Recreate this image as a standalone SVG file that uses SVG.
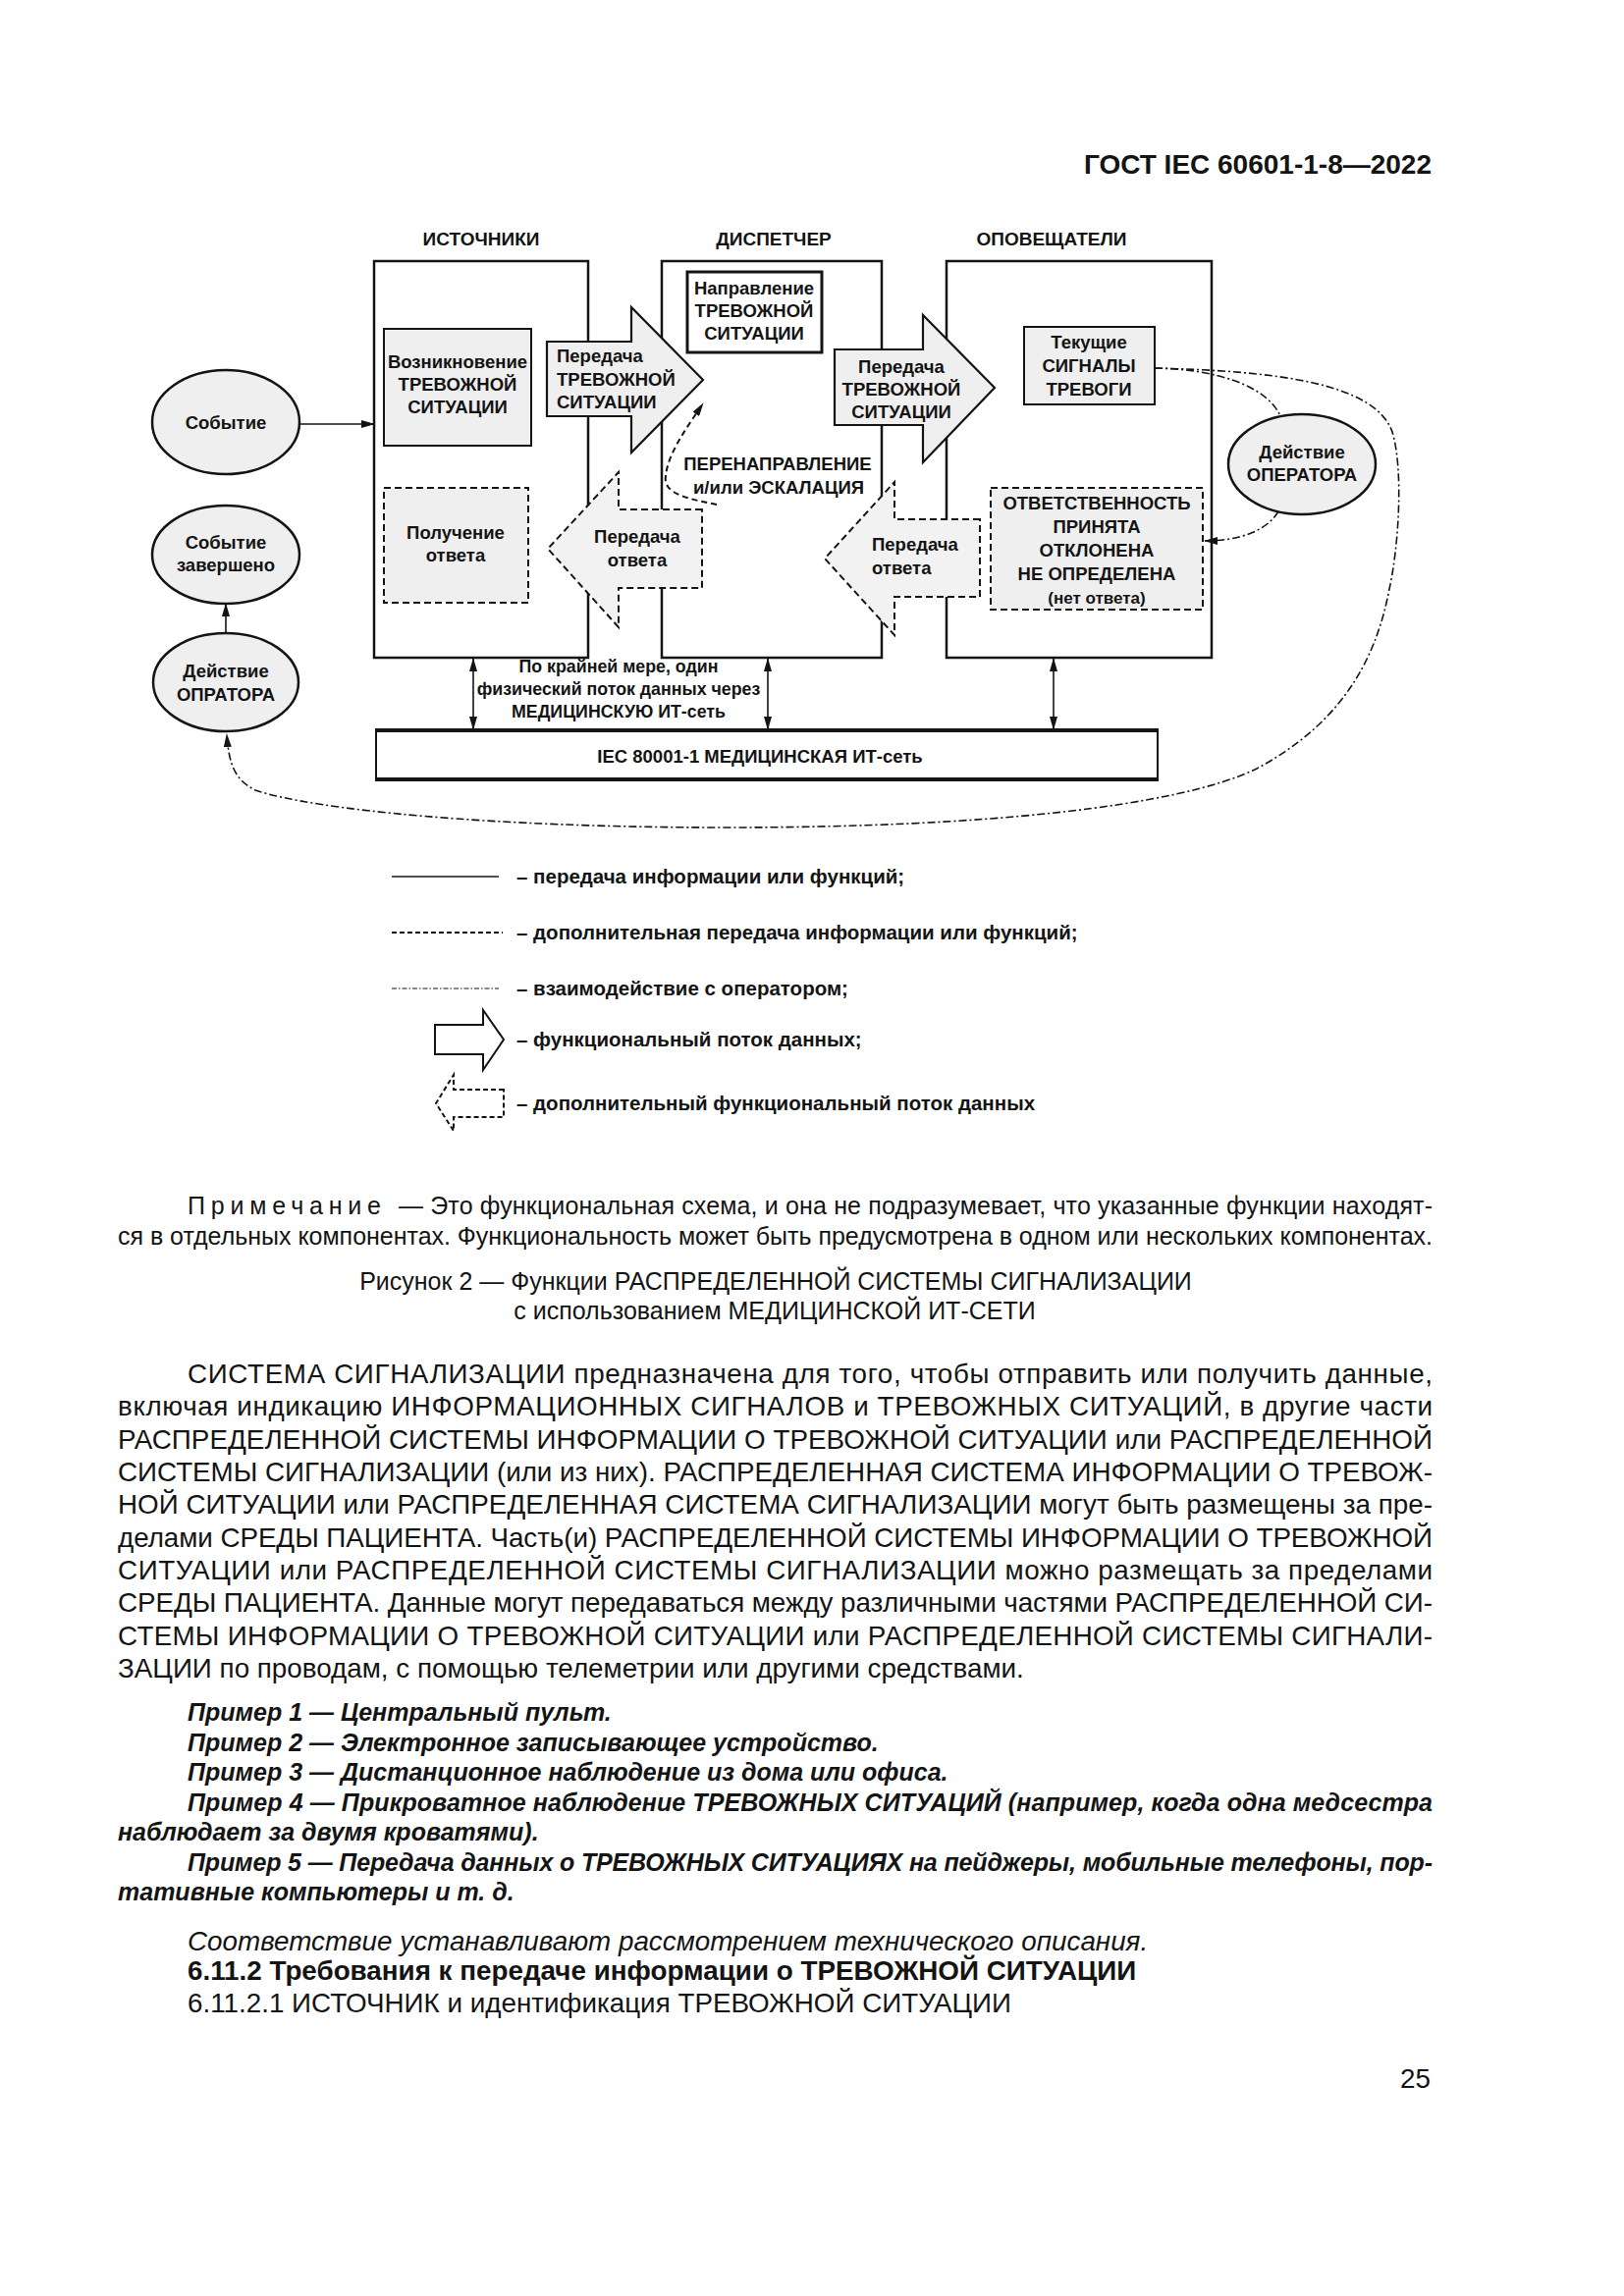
<svg xmlns="http://www.w3.org/2000/svg" width="1654" height="2339" viewBox="0 0 1654 2339">
<defs>
<style>
text{font-family:"Liberation Sans",Arial,Helvetica,sans-serif;fill:#141414}
.d{font-weight:bold;font-size:18.5px;text-anchor:middle}
.ds{font-weight:bold;font-size:18.5px}
.h{font-weight:bold;font-size:19px;text-anchor:middle}
.lg{font-weight:bold;font-size:20.5px}
.col{fill:#fff;stroke:#141414;stroke-width:2.5}
.box{fill:#efefef;stroke:#141414;stroke-width:2}
.wbox{fill:#fff;stroke:#141414;stroke-width:3}
.dbox{fill:#efefef;stroke:#141414;stroke-width:2;stroke-dasharray:7 4}
.arr{fill:#efefef;stroke:#141414;stroke-width:2.2;stroke-linejoin:miter}
.warr{fill:#fff;stroke:#141414;stroke-width:2;stroke-linejoin:miter}
.darr{fill:#f2f2f2;stroke:#141414;stroke-width:2;stroke-dasharray:7 4}
.wdarr{fill:#fff;stroke:#141414;stroke-width:2;stroke-dasharray:5 3}
.ell{fill:#efefef;stroke:#141414;stroke-width:2.5}
.ln{fill:none;stroke:#141414;stroke-width:1.6}
.dsh{fill:none;stroke:#141414;stroke-width:2;stroke-dasharray:6 4}
.dd{fill:none;stroke:#141414;stroke-width:1.6;stroke-dasharray:8 3 2 3}
.b{font-size:27.8px}
.n{font-size:25px}
.ex{font-size:25px;font-weight:bold;font-style:italic}
</style>
<marker id="ah" viewBox="0 0 14 8" refX="13" refY="4" markerWidth="14" markerHeight="8" markerUnits="userSpaceOnUse" orient="auto-start-reverse"><path d="M0,0 L14,4 L0,8 z" fill="#141414"/></marker>
</defs>
<rect width="1654" height="2339" fill="#fff"/>

<text x="1458" y="177" style="font-weight:bold;font-size:28px;text-anchor:end">ГОСТ IEC 60601-1-8—2022</text>

<!-- column titles -->
<text class="h" x="490" y="250">ИСТОЧНИКИ</text>
<text class="h" x="788" y="250">ДИСПЕТЧЕР</text>
<text class="h" x="1071" y="250">ОПОВЕЩАТЕЛИ</text>

<!-- column boxes -->
<g id="n-sources"><rect class="col" x="381" y="266" width="218" height="404"/></g>
<g id="n-dispatcher"><rect class="col" x="674" y="266" width="224" height="404"/></g>
<g id="n-notifiers"><rect class="col" x="964" y="266" width="270" height="404"/></g>

<g id="n-network">
<rect x="383" y="744" width="796" height="50" fill="#fff" stroke="#141414" stroke-width="2"/>
<line x1="382" y1="744" x2="1180" y2="744" stroke="#141414" stroke-width="4"/>
<line x1="382" y1="794" x2="1180" y2="794" stroke="#141414" stroke-width="4"/>
<text class="d" x="774" y="777">IEC 80001-1 МЕДИЦИНСКАЯ ИТ-сеть</text>
</g>

<g id="n-origin">
<rect class="box" x="391" y="335" width="150" height="119"/>
<text class="d" x="466" y="375">Возникновение</text>
<text class="d" x="466" y="398">ТРЕВОЖНОЙ</text>
<text class="d" x="466" y="421">СИТУАЦИИ</text>
</g>

<g id="n-receive">
<rect class="dbox" x="391" y="497" width="147" height="117"/>
<text class="d" x="464" y="549">Получение</text>
<text class="d" x="464" y="572">ответа</text>
</g>

<g id="n-route">
<rect class="wbox" x="700" y="277" width="137" height="82"/>
<text class="d" x="768" y="300">Направление</text>
<text class="d" x="768" y="323">ТРЕВОЖНОЙ</text>
<text class="d" x="768" y="346">СИТУАЦИИ</text>
</g>

<g id="n-current">
<rect class="box" x="1043" y="333" width="133" height="79"/>
<text class="d" x="1109" y="355">Текущие</text>
<text class="d" x="1109" y="379">СИГНАЛЫ</text>
<text class="d" x="1109" y="403">ТРЕВОГИ</text>
</g>

<g id="n-resp">
<rect class="dbox" x="1009" y="497" width="216" height="124"/>
<text class="d" x="1117" y="519">ОТВЕТСТВЕННОСТЬ</text>
<text class="d" x="1117" y="543">ПРИНЯТА</text>
<text class="d" x="1117" y="567">ОТКЛОНЕНА</text>
<text class="d" x="1117" y="591">НЕ ОПРЕДЕЛЕНА</text>
<text class="d" x="1117" y="615" style="font-size:17px">(нет ответа)</text>
</g>

<!-- block arrows -->
<g id="n-transfer1">
<polygon class="arr" points="557,348 643,348 643,313 716,387 643,461 643,424 557,424"/>
<text class="ds" x="567" y="369">Передача</text>
<text class="ds" x="567" y="393">ТРЕВОЖНОЙ</text>
<text class="ds" x="567" y="416">СИТУАЦИИ</text>
</g>
<g id="n-transfer2">
<polygon class="arr" points="850,356 940,356 940,321 1013,395 940,471 940,433 850,433"/>
<text class="d" x="918" y="380">Передача</text>
<text class="d" x="918" y="403">ТРЕВОЖНОЙ</text>
<text class="d" x="918" y="426">СИТУАЦИИ</text>
</g>
<g id="n-reply1">
<polygon class="darr" points="715,519 630,519 630,481 558,559 630,639 630,599 715,599"/>
<text class="d" x="649" y="553">Передача</text>
<text class="d" x="649" y="577">ответа</text>
</g>
<g id="n-reply2">
<polygon class="darr" points="998,529 911,529 911,491 840,569 911,647 911,608 998,608"/>
<text class="ds" x="888" y="561">Передача</text>
<text class="ds" x="888" y="585">ответа</text>
</g>

<g id="n-redirect-label">
<text class="d" x="792" y="479">ПЕРЕНАПРАВЛЕНИЕ</text>
<text class="d" x="793" y="503">и/или ЭСКАЛАЦИЯ</text>
</g>

<g id="n-fiber-label">
<text class="d" x="630" y="685" style="font-size:17.8px">По крайней мере, один</text>
<text class="d" x="630" y="708" style="font-size:17.8px">физический поток данных через</text>
<text class="d" x="630" y="731" style="font-size:17.8px">МЕДИЦИНСКУЮ ИТ-сеть</text>
</g>

<!-- ellipses -->
<g id="n-event">
<ellipse class="ell" cx="230" cy="430" rx="75" ry="53"/>
<text class="d" x="230" y="437">Событие</text>
</g>
<g id="n-event-done">
<ellipse class="ell" cx="230" cy="565" rx="75" ry="50"/>
<text class="d" x="230" y="559">Событие</text>
<text class="d" x="230" y="582">завершено</text>
</g>
<g id="n-op-left">
<ellipse class="ell" cx="230" cy="695" rx="74" ry="50"/>
<text class="d" x="230" y="690">Действие</text>
<text class="d" x="230" y="714">ОПРАТОРА</text>
</g>
<g id="n-op-right">
<ellipse class="ell" cx="1326" cy="473" rx="75" ry="51"/>
<text class="d" x="1326" y="467">Действие</text>
<text class="d" x="1326" y="490">ОПЕРАТОРА</text>
</g>

<!-- connectors -->
<g id="connectors">
<line class="ln" x1="305" y1="432" x2="381" y2="432" marker-end="url(#ah)"/>
<line class="ln" x1="230" y1="645" x2="230" y2="615" marker-end="url(#ah)"/>
<line class="ln" x1="482" y1="671" x2="482" y2="743" marker-start="url(#ah)" marker-end="url(#ah)"/>
<line class="ln" x1="782" y1="671" x2="782" y2="743" marker-start="url(#ah)" marker-end="url(#ah)"/>
<line class="ln" x1="1073" y1="671" x2="1073" y2="743" marker-start="url(#ah)" marker-end="url(#ah)"/>
<path class="dsh" d="M730,514 C700,508 675,503 678,485 C680,462 700,435 716,411" marker-end="url(#ah)"/>
<path class="dd" d="M1176,375 C1236,376 1290,392 1304,424"/>
<path class="dd" d="M1176,375 C1300,378 1400,390 1418,440 C1430,480 1424,560 1415,600 C1400,680 1360,740 1280,783 C1200,822 1000,843 740,843 C500,843 320,825 260,805 C240,795 233,780 231,748" marker-end="url(#ah)"/>
<path class="dd" d="M1302,521 C1290,541 1262,551 1227,551" marker-end="url(#ah)"/>
</g>

<!-- legend -->
<g id="legend">
<line class="ln" x1="399" y1="893" x2="508" y2="893"/>
<text class="lg" x="526" y="900">– передача информации или функций;</text>
<line class="dsh" x1="399" y1="950" x2="512" y2="950" style="stroke-width:2;stroke-dasharray:5 3"/>
<text class="lg" x="526" y="957">– дополнительная передача информации или функций;</text>
<line class="dd" x1="399" y1="1007" x2="508" y2="1007" style="stroke-width:1.2;stroke-dasharray:5 2 1.5 2"/>
<text class="lg" x="526" y="1014">– взаимодействие с оператором;</text>
<polygon class="warr" points="443,1044 492,1044 492,1029 513,1059 492,1090 492,1074 443,1074"/>
<text class="lg" x="526" y="1066">– функциональный поток данных;</text>
<polygon class="wdarr" points="513,1110 462,1110 462,1095 444,1124 462,1152 462,1138 513,1138"/>
<text class="lg" x="526" y="1131">– дополнительный функциональный поток данных</text>
</g>

<!-- note and caption -->
<g id="note">
<text class="n" x="191" y="1237" textLength="197" lengthAdjust="spacing">Примечание</text>
<text class="n" x="406" y="1237" textLength="1053" lengthAdjust="spacing">— Это функциональная схема, и она не подразумевает, что указанные функции находят-</text>
<text class="n" x="120" y="1268" textLength="1339" lengthAdjust="spacing">ся в отдельных компонентах. Функциональность может быть предусмотрена в одном или нескольких компонентах.</text>
<text class="n" x="790" y="1314" text-anchor="middle">Рисунок 2 — Функции РАСПРЕДЕЛЕННОЙ СИСТЕМЫ СИГНАЛИЗАЦИИ</text>
<text class="n" x="789" y="1344" text-anchor="middle">с использованием МЕДИЦИНСКОЙ ИТ-СЕТИ</text>
</g>

<!-- body text -->
<g id="body">
<text class="b" x="191" y="1409" textLength="1268" lengthAdjust="spacing">СИСТЕМА СИГНАЛИЗАЦИИ предназначена для того, чтобы отправить или получить данные,</text>
<text class="b" x="120" y="1442" textLength="1339" lengthAdjust="spacing">включая индикацию ИНФОРМАЦИОННЫХ СИГНАЛОВ и ТРЕВОЖНЫХ СИТУАЦИЙ, в другие части</text>
<text class="b" x="120" y="1476" textLength="1339" lengthAdjust="spacing">РАСПРЕДЕЛЕННОЙ СИСТЕМЫ ИНФОРМАЦИИ О ТРЕВОЖНОЙ СИТУАЦИИ или РАСПРЕДЕЛЕННОЙ</text>
<text class="b" x="120" y="1509" textLength="1339" lengthAdjust="spacing">СИСТЕМЫ СИГНАЛИЗАЦИИ (или из них). РАСПРЕДЕЛЕННАЯ СИСТЕМА ИНФОРМАЦИИ О ТРЕВОЖ-</text>
<text class="b" x="120" y="1542" textLength="1339" lengthAdjust="spacing">НОЙ СИТУАЦИИ или РАСПРЕДЕЛЕННАЯ СИСТЕМА СИГНАЛИЗАЦИИ могут быть размещены за пре-</text>
<text class="b" x="120" y="1576" textLength="1339" lengthAdjust="spacing">делами СРЕДЫ ПАЦИЕНТА. Часть(и) РАСПРЕДЕЛЕННОЙ СИСТЕМЫ ИНФОРМАЦИИ О ТРЕВОЖНОЙ</text>
<text class="b" x="120" y="1609" textLength="1339" lengthAdjust="spacing">СИТУАЦИИ или РАСПРЕДЕЛЕННОЙ СИСТЕМЫ СИГНАЛИЗАЦИИ можно размещать за пределами</text>
<text class="b" x="120" y="1642" textLength="1339" lengthAdjust="spacing">СРЕДЫ ПАЦИЕНТА. Данные могут передаваться между различными частями РАСПРЕДЕЛЕННОЙ СИ-</text>
<text class="b" x="120" y="1676" textLength="1339" lengthAdjust="spacing">СТЕМЫ ИНФОРМАЦИИ О ТРЕВОЖНОЙ СИТУАЦИИ или РАСПРЕДЕЛЕННОЙ СИСТЕМЫ СИГНАЛИ-</text>
<text class="b" x="120" y="1709">ЗАЦИИ по проводам, с помощью телеметрии или другими средствами.</text>
</g>

<g id="examples">
<text class="ex" x="191" y="1753">Пример 1 — Центральный пульт.</text>
<text class="ex" x="191" y="1783.5">Пример 2 — Электронное записывающее устройство.</text>
<text class="ex" x="191" y="1814">Пример 3 — Дистанционное наблюдение из дома или офиса.</text>
<text class="ex" x="191" y="1844.5" textLength="1268" lengthAdjust="spacing">Пример 4 — Прикроватное наблюдение ТРЕВОЖНЫХ СИТУАЦИЙ (например, когда одна медсестра</text>
<text class="ex" x="120" y="1875">наблюдает за двумя кроватями).</text>
<text class="ex" x="191" y="1905.5" textLength="1268" lengthAdjust="spacing">Пример 5 — Передача данных о ТРЕВОЖНЫХ СИТУАЦИЯХ на пейджеры, мобильные телефоны, пор-</text>
<text class="ex" x="120" y="1936">тативные компьютеры и т. д.</text>
</g>

<g id="tail">
<text class="b" x="191" y="1987" style="font-style:italic">Соответствие устанавливают рассмотрением технического описания.</text>
<text class="b" x="191" y="2017" style="font-weight:bold">6.11.2  Требования к передаче информации о ТРЕВОЖНОЙ СИТУАЦИИ</text>
<text class="b" x="191" y="2050">6.11.2.1  ИСТОЧНИК и идентификация ТРЕВОЖНОЙ СИТУАЦИИ</text>
<text class="b" x="1457" y="2127" text-anchor="end">25</text>
</g>
</svg>
